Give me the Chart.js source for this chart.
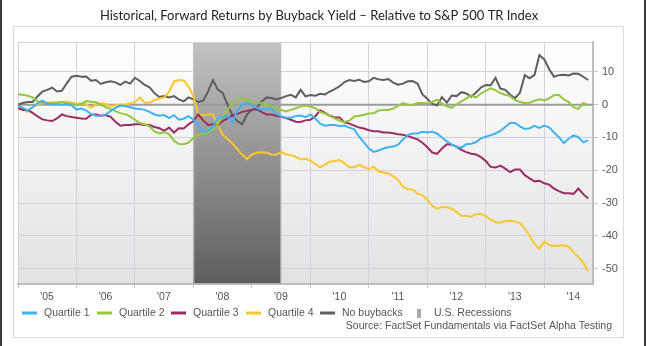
<!DOCTYPE html>
<html><head><meta charset="utf-8">
<script src="https://cdn.jsdelivr.net/npm/chart.js@4/dist/chart.umd.min.js"></script>
<style>html,body{margin:0;padding:0;background:#fff;overflow:hidden}#wrap{width:646px;height:346px}</style>
</head><body><div id="wrap"><canvas id="c" width="646" height="346"></canvas></div>
<script>
// ---- data (monthly, Jan 2005 .. Oct 2014) ----
const startYear = 2005;
const monthCount = 118;
const yearLabels = ["'05","'06","'07","'08","'09","'10","'11","'12","'13","'14"];
const yTicks = [10, 0, -10, -20, -30, -40, -50];
const recession = [2008.0, 2009.5];
const seriesNames = ["Quartile 1", "Quartile 2", "Quartile 3", "Quartile 4", "No buybacks"];
const seriesColors = ["#3fb3f2", "#93c83e", "#9a2c66", "#fcc62c", "#5e5e5e"];

const quartile1 = [
 -0.3,-1.0,-1.8,-0.8,0.4,1.2,0.3,0.1,0.1,0.0,0.2,-0.2,
 -1.5,-1.2,-1.8,-2.9,-3.4,-3.5,-3.0,-2.0,-1.0,-0.3,-0.4,-0.8,
 -1.2,-1.3,-1.6,-2.2,-3.0,-3.4,-3.2,-4.1,-3.2,-4.6,-4.3,-3.5,
 -4.6,-6.3,-8.4,-8.0,-6.8,-4.2,-3.8,-3.3,-5.5,-1.8,0.0,0.5,
 -0.3,-1.0,-1.5,-1.5,-1.2,-2.8,-3.6,-4.0,-4.0,-3.5,-3.3,-3.8,
 -3.0,-4.2,-5.8,-6.4,-6.2,-6.2,-6.6,-6.4,-7.0,-7.5,-9.8,-11.5,
 -13.4,-14.4,-14.0,-13.4,-13.0,-12.8,-12.2,-10.6,-9.3,-8.8,-8.8,-8.3,
 -8.5,-8.3,-8.8,-10.0,-11.2,-12.1,-12.9,-13.1,-12.1,-11.9,-11.4,-10.3,
 -9.8,-9.3,-8.8,-8.0,-6.8,-5.6,-5.6,-6.6,-7.4,-7.2,-6.5,-7.1,
 -6.4,-6.9,-8.5,-9.9,-11.7,-10.4,-9.4,-9.9,-11.5,-10.9
];
const quartile2 = [
 3.2,3.0,2.7,2.2,1.0,0.6,0.6,0.4,0.5,0.8,0.4,0.2,
 -0.1,0.2,1.1,0.9,0.7,0.0,-0.8,-1.3,-2.0,-2.6,-2.9,-3.6,
 -4.6,-5.6,-6.0,-6.6,-8.2,-8.8,-8.4,-9.0,-11.0,-12.0,-12.1,-11.6,
 -10.2,-9.1,-8.8,-8.5,-7.6,-6.0,-3.6,-1.6,0.4,1.4,1.9,1.4,
 0.9,0.7,0.4,-0.1,-0.6,-1.1,-1.6,-2.1,-1.6,-1.1,-0.6,-0.3,
 -0.6,-1.1,-2.2,-2.7,-3.4,-4.2,-4.9,-5.3,-4.9,-3.6,-3.4,-3.1,
 -2.7,-2.6,-1.8,-1.6,-1.6,-1.2,-0.4,0.5,0.0,-0.1,0.5,0.5,
 0.4,0.8,1.5,0.3,-0.5,-1.0,0.1,1.0,1.9,2.8,2.2,3.4,
 4.2,5.0,4.4,3.5,3.0,2.6,1.4,0.8,0.5,0.6,1.2,1.6,
 1.3,1.9,2.9,2.9,1.6,0.8,-0.8,-1.3,0.5,-0.2
];
const quartile3 = [
 -1.1,-1.6,-1.6,-2.5,-3.6,-4.5,-4.8,-5.0,-4.2,-3.0,-3.5,-3.8,
 -4.0,-4.2,-4.3,-3.1,-3.0,-3.4,-3.2,-3.7,-5.2,-6.4,-6.2,-6.2,
 -6.0,-6.0,-6.2,-6.2,-6.8,-7.2,-8.0,-7.0,-8.5,-7.2,-7.3,-6.0,
 -5.0,-3.0,-4.8,-6.2,-6.0,-6.3,-5.0,-4.2,-3.3,-2.8,-2.2,-1.9,
 -1.6,-1.4,-2.3,-3.0,-3.0,-3.4,-3.7,-4.1,-4.6,-5.2,-5.3,-4.8,
 -4.6,-3.6,-1.7,-2.5,-3.4,-3.9,-3.9,-5.4,-5.8,-6.4,-7.0,-7.3,
 -7.8,-8.1,-8.1,-8.5,-8.5,-8.7,-9.0,-9.2,-9.6,-10.1,-10.6,-11.6,
 -13.0,-14.6,-15.0,-13.4,-12.1,-12.2,-12.8,-13.8,-14.5,-15.0,-15.2,-16.0,
 -17.2,-19.0,-19.2,-18.6,-19.5,-20.6,-19.8,-19.8,-21.5,-22.5,-23.4,-23.2,
 -24.0,-24.4,-25.6,-26.4,-27.0,-27.0,-27.2,-25.6,-27.3,-28.6
];
const quartile4 = [
 -0.5,-1.5,-2.2,-0.8,0.2,0.4,0.5,0.7,0.8,0.8,0.9,0.6,
 0.3,0.4,0.1,-0.9,0.1,0.4,0.1,-0.5,-0.2,0.0,-0.1,0.4,
 0.7,2.2,0.6,0.6,1.4,1.9,2.2,3.9,7.0,7.5,7.4,5.5,
 2.5,-3.0,-3.2,-3.0,-3.0,-6.0,-9.2,-10.5,-11.8,-13.6,-15.3,-16.6,
 -15.2,-14.7,-14.5,-14.6,-15.2,-15.3,-14.4,-15.2,-15.4,-15.9,-16.7,-16.5,
 -17.1,-18.1,-19.1,-18.3,-17.4,-17.2,-16.9,-17.9,-19.1,-19.1,-18.4,-19.1,
 -19.7,-19.0,-20.4,-20.7,-21.0,-21.9,-23.0,-25.0,-25.8,-25.9,-27.2,-27.6,
 -29.0,-30.8,-31.8,-31.2,-31.3,-31.7,-32.7,-34.0,-34.0,-34.1,-33.4,-33.3,
 -34.1,-35.1,-35.9,-36.0,-35.5,-35.4,-35.6,-36.1,-37.8,-40.0,-42.5,-44.0,
 -41.7,-42.8,-43.1,-43.0,-42.9,-43.3,-45.0,-46.5,-48.2,-50.8
];
const noBuybacks = [
 0.0,0.5,0.8,0.8,2.5,4.0,4.5,5.2,4.0,4.2,6.5,8.5,
 8.8,8.5,8.6,7.3,7.5,6.3,6.8,7.1,6.8,6.0,7.0,6.4,
 8.2,7.2,6.0,5.3,3.5,2.3,2.6,2.2,2.6,1.6,1.0,2.2,
 1.6,0.8,1.2,4.0,7.5,4.6,3.6,0.0,-3.2,-5.0,-6.0,-3.0,
 -1.6,-1.0,1.0,2.2,2.0,1.6,2.0,2.6,3.0,2.2,4.5,2.5,
 2.9,2.7,3.3,3.1,4.0,4.7,5.6,6.9,7.5,7.2,7.6,6.9,
 7.1,8.2,7.7,7.5,7.8,6.7,6.1,6.4,7.1,7.2,6.4,3.1,
 1.8,0.2,-0.2,2.3,0.6,2.8,2.6,3.8,3.4,2.4,3.7,5.2,
 6.0,5.9,8.2,4.9,4.5,3.0,2.0,3.6,9.0,8.0,9.1,15.1,
 13.8,10.8,8.5,9.0,9.1,8.9,9.5,9.4,8.5,7.5
];
const seriesValues = [quartile1, quartile2, quartile3, quartile4, noBuybacks];

const legendTexts = ["Quartile 1", "Quartile 2", "Quartile 3", "Quartile 4", "No buybacks", "U.S. Recessions"];
const titleText = "Historical, Forward Returns by Buyback Yield \u2013 Relative to S&P 500 TR Index";
const sourceText = "Source: FactSet Fundamentals via FactSet Alpha Testing";

// ---- build ----
const toPoints = arr => arr.map((v, i) => ({ x: startYear + i / 12, y: v }));
const datasets = seriesNames.map((n, k) => ({
  label: n, data: toPoints(seriesValues[k]), borderColor: seriesColors[k],
  backgroundColor: seriesColors[k], borderWidth: 2, pointRadius: 0, tension: 0, fill: false
}));

const FONT = "'Liberation Sans', Arial, sans-serif";

const deco = {
  id: 'deco',
  beforeDraw(chart) {
    const { ctx, chartArea: a } = chart;
    ctx.save();
    ctx.fillStyle = '#fff'; ctx.fillRect(0, 0, 646, 346);
    ctx.fillStyle = '#3a3a3a'; ctx.fillRect(0, 0, 2, 346); ctx.fillRect(644, 0, 2, 346);
    ctx.strokeStyle = '#dcdcdc'; ctx.lineWidth = 1; ctx.strokeRect(13.5, 26.5, 610, 311);
    const g = ctx.createLinearGradient(0, a.top, 0, a.bottom);
    g.addColorStop(0, '#ffffff'); g.addColorStop(1, '#e2e2e2');
    ctx.fillStyle = g; ctx.fillRect(a.left, a.top, a.right - a.left, a.bottom - a.top);
    ctx.restore();
  },
  beforeDatasetsDraw(chart) {
    const { ctx, chartArea: a, scales: { x, y } } = chart;
    ctx.save();
    const x0 = x.getPixelForValue(recession[0]), x1 = x.getPixelForValue(recession[1]);
    const g = ctx.createLinearGradient(0, a.top, 0, a.bottom);
    g.addColorStop(0, '#c3c3c3'); g.addColorStop(1, '#5d5d5d');
    ctx.fillStyle = g; ctx.fillRect(x0, a.top, x1 - x0, a.bottom - a.top);
    ctx.strokeStyle = 'rgba(190,190,190,0.8)'; ctx.lineWidth = 1;
    ctx.strokeRect(x0 + 0.5, a.top + 0.5, x1 - x0 - 1, a.bottom - a.top - 1);
    // top border
    ctx.strokeStyle = '#d2d2dc'; ctx.beginPath(); ctx.moveTo(a.left, a.top + 0.5); ctx.lineTo(a.right, a.top + 0.5); ctx.stroke();
    // zero line
    const y0 = y.getPixelForValue(0);
    ctx.strokeStyle = '#9a9a9a'; ctx.lineWidth = 2;
    ctx.beginPath(); ctx.moveTo(a.left, y0); ctx.lineTo(a.right, y0); ctx.stroke();
    ctx.restore();
  },
  afterDraw(chart) {
    const { ctx } = chart;
    ctx.save();
    ctx.fillStyle = '#222'; ctx.textBaseline = 'middle'; ctx.textAlign = 'center';
    ctx.font = "13px Lato, " + FONT;
    ctx.fillText(titleText, 319, 16);
    // legend
    const ly = 313;
    const lineX = [22, 97, 171, 246, 320];
    const textX = [44, 119, 193, 268, 342];
    ctx.font = "10.5px " + FONT; ctx.textAlign = 'left';
    for (let k = 0; k < 5; k++) {
      ctx.strokeStyle = seriesColors[k]; ctx.lineWidth = 3;
      ctx.beginPath(); ctx.moveTo(lineX[k], ly); ctx.lineTo(lineX[k] + 15, ly); ctx.stroke();
      ctx.fillStyle = '#555'; ctx.fillText(legendTexts[k], textX[k], ly + 0.5);
    }
    ctx.fillStyle = '#aaa'; ctx.fillRect(417, ly - 4, 4, 9);
    ctx.fillStyle = '#555'; ctx.fillText(legendTexts[5], 434, ly + 0.5);
    ctx.textAlign = 'right';
    ctx.fillText(sourceText, 612, 326);
    ctx.restore();
  }
};

new Chart(document.getElementById('c'), {
  type: 'line',
  data: { datasets },
  plugins: [deco],
  options: {
    responsive: false, animation: false, devicePixelRatio: 1,
    layout: { padding: { left: 18, top: 42, right: 23, bottom: 42 } },
    plugins: { legend: { display: false }, title: { display: false }, tooltip: { enabled: false } },
    scales: {
      x: {
        type: 'linear', position: 'bottom', min: startYear, max: startYear + monthCount / 12,
        afterBuildTicks: s => { s.ticks = yearLabels.map((_, i) => ({ value: startYear + i })); },
        afterFit: s => { s.height = 20; },
        ticks: { callback: (v, i) => yearLabels[i], labelOffset: 29, maxRotation: 0, autoSkip: false,
                 color: '#555', font: { family: FONT, size: 10.5 }, padding: 3 },
        grid: { color: '#d2d2dc', lineWidth: 1, tickLength: 4, tickColor: '#c4c4c4' },
        border: { display: true, color: '#bdbdbd', width: 2 }
      },
      y: {
        position: 'right', min: -54.7, max: 19.1,
        afterBuildTicks: s => { s.ticks = yTicks.map(v => ({ value: v })); },
        afterFit: s => { s.width = 30; },
        ticks: { color: '#555', font: { family: FONT, size: 11 }, padding: 4 },
        grid: { color: '#d2d2dc', lineWidth: 1, tickLength: 5, tickColor: '#c4c4c4' },
        border: { display: true, color: '#bdbdbd', width: 2 }
      }
    }
  }
});
</script></body></html>
